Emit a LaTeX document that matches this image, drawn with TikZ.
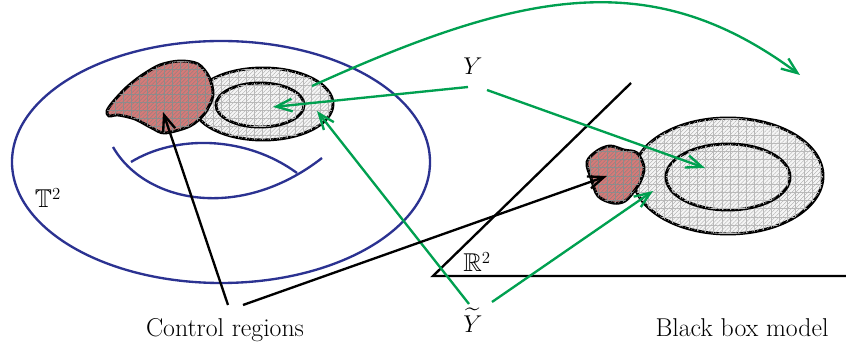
\documentclass[tikz,border=0pt]{standalone}
\usepackage{amsmath,amssymb}
\usetikzlibrary{arrows.meta,patterns.meta}
\definecolor{torusblue}{RGB}{43,50,145}
\definecolor{mapgreen}{RGB}{0,160,80}
\definecolor{ctrlred}{RGB}{214,122,120}

\begin{document}
\begin{tikzpicture}[x=0.3mm, y=-0.3mm, >={Straight Barb[length=4.8mm,width=3.8mm]},
 every node/.style={font=\fontsize{22}{26}\selectfont, inner sep=2pt},
 torus/.style={draw=torusblue, line width=2pt},
 region/.style={draw=black, line width=2.5pt, fill=gray!8,
  postaction={pattern color=gray!70, pattern={Lines[angle=45,distance=2.4pt,line width=0.3pt]}},
  postaction={pattern color=gray!55, pattern={Hatch[angle=0,distance=7pt,line width=0.3pt]}}},
 blob/.style={draw=black, line width=2.5pt, fill=ctrlred,
  postaction={pattern color=black!50, pattern={Lines[angle=45,distance=2.4pt,line width=0.3pt]}},
  postaction={pattern color=black!45, pattern={Hatch[angle=0,distance=7pt,line width=0.3pt]}}},
 map/.style={->, draw=mapgreen, line width=2pt},
 ctrl/.style={->, draw=black, line width=2pt},
 axis/.style={draw=black, line width=2pt}]
\useasboundingbox (0,0) rectangle (846,348);

% torus
\draw[torus] (221,162) ellipse [x radius=6.27cm, y radius=3.63cm];
\draw[torus] (113,147) .. controls (145,203) and (240,222) .. (322,158);
\draw[torus] (131,162) .. controls (175,135) and (245,135) .. (297,173);
\node (T) at (48,198) {$\mathbb{T}^2$};

% left regions
\path[region] (263,104) ellipse [x radius=2.1cm, y radius=1.08cm];
\path[region] (260,105) ellipse [x radius=1.32cm, y radius=0.66cm];
\path[blob] plot[smooth cycle, tension=0.5] coordinates {(107,111) (113,102) (126,88) (141,76)
 (160,65) (180,61) (198,64) (209,77) (213,95) (205,113) (190,126) (165,133) (152,128)
 (135,119) (118,115) (109,116)};

% plane
\coordinate (O) at (433,276);
\coordinate (xend) at (846,276);
\coordinate (yend) at (631,83);
\draw[axis] (xend) -- (O) -- (yend);
\node (R) at (477,262) {$\mathbb{R}^2$};

% right regions
\path[region] (728,176) ellipse [x radius=2.85cm, y radius=1.74cm];
\path[region] (728,177) ellipse [x radius=1.86cm, y radius=0.99cm];
\path[blob] plot[smooth cycle, tension=0.55] coordinates {(587,162) (597,151) (610,146) (624,150)
 (637,153) (644,167) (641,180) (635,190) (625,201) (613,203) (598,196) (591,178)};

% labels
\node (Y) at (473,66) {$Y$};
\node (Yt) at (473,320) {$\widetilde{Y}$};
\node[anchor=base] (ctrl) at (225,337) {Control regions};
\node[anchor=base] (bbm) at (742,337) {Black box model};

\coordinate (ya) at (468,87);
\coordinate (yb) at (487,90);
\coordinate (yta) at (469,304);
\coordinate (ytb) at (492,302);
\coordinate (ca) at (228,305);
\coordinate (cb) at (243,305);
\coordinate (lin) at (273,107);
\coordinate (rin) at (705,168);
\coordinate (lout) at (317,111);
\coordinate (rout) at (653,191);
\coordinate (lblob) at (163,112);
\coordinate (rblob) at (607,176);
\coordinate (cs) at (312,86);
\coordinate (ce) at (800,75);

\draw[map] (ya) -- (lin);
\draw[map] (yb) -- (rin);
\draw[map] (yta) -- (lout);
\draw[map] (ytb) -- (rout);
\draw[map] (cs) .. controls (524,-10) and (652,-35) .. (ce);
\draw[ctrl] (ca) -- (lblob);
\draw[ctrl] (cb) -- (rblob);
\end{tikzpicture}
\end{document}
